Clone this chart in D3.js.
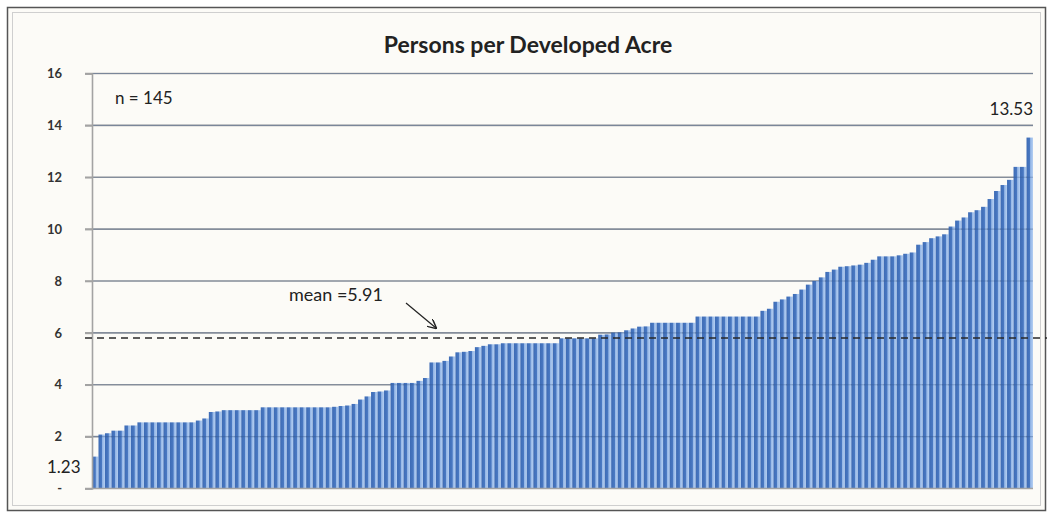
<!DOCTYPE html>
<html>
<head>
<meta charset="utf-8">
<script src="https://cdn.jsdelivr.net/npm/d3@7"></script>
<style>
  body { margin: 0; background: #ffffff; }
  svg { display: block; }
</style>
</head>
<body>
<div id="chart"></div>
<script>
// persons per developed acre, 145 places, sorted low to high
const values = [
  1.23, 2.08, 2.13, 2.23, 2.23, 2.43, 2.43,
  2.55, 2.55, 2.55, 2.55, 2.55, 2.55, 2.55, 2.55, 2.55,
  2.62, 2.70, 2.95, 2.97,
  3.02, 3.02, 3.02, 3.02, 3.02, 3.02,
  3.13, 3.13, 3.13, 3.13, 3.13, 3.13, 3.13, 3.13, 3.13, 3.13, 3.13,
  3.15, 3.18, 3.20, 3.26, 3.43, 3.55, 3.72, 3.74, 3.78,
  4.07, 4.07, 4.07, 4.07, 4.15, 4.26,
  4.86, 4.86, 4.92, 5.09, 5.25, 5.27, 5.30, 5.45, 5.50, 5.56, 5.56,
  5.60, 5.60, 5.60, 5.60, 5.60, 5.60, 5.60, 5.60, 5.60,
  5.79, 5.79, 5.79, 5.79, 5.79, 5.79,
  5.93, 5.94, 6.01, 6.02, 6.10, 6.17, 6.24, 6.25,
  6.39, 6.39, 6.39, 6.39, 6.39, 6.39, 6.39,
  6.63, 6.63, 6.63, 6.63, 6.63, 6.63, 6.63, 6.63, 6.63, 6.63,
  6.85, 6.93, 7.20, 7.29, 7.40, 7.50, 7.67, 7.86, 8.00, 8.14, 8.35, 8.44, 8.55,
  8.57, 8.60, 8.63, 8.70, 8.82, 8.95, 8.95, 8.95, 8.99, 9.05, 9.10,
  9.40, 9.50, 9.65, 9.72, 9.80, 10.10, 10.33, 10.45, 10.65, 10.73, 10.86,
  11.16, 11.47, 11.70, 11.90, 12.40, 12.40, 13.53
];
const yTicks = [0, 2, 4, 6, 8, 10, 12, 14, 16];
const meanValue = 5.91;      // label value
const meanLineAt = 5.8;      // where the dashed line is drawn in the source

const W = 1049, H = 516;
const svg = d3.select('#chart').append('svg')
  .attr('width', W)
  .attr('height', H);

// outer frame
svg.append('rect')
  .attr('x', 7.5).attr('y', 7.5)
  .attr('width', 1038).attr('height', 503)
  .attr('fill', '#fcfbf7')
  .attr('stroke', '#555')
  .attr('stroke-width', 1.5);
svg.append('rect')
  .attr('x', 12.5).attr('y', 12.5)
  .attr('width', 1028).attr('height', 493)
  .attr('fill', 'none')
  .attr('stroke', '#cfcfcf');

const x = d3.scaleBand()
  .domain(d3.range(values.length))
  .range([92, 1033])
  .padding(0);

const y = d3.scaleLinear()
  .domain([0, 16])
  .range([488.5, 73.5]);

// gradient for the bars (dark body, light edge)
const defs = svg.append('defs');
const grad = defs.append('linearGradient')
  .attr('id', 'barGrad')
  .attr('x1', '0%').attr('x2', '100%')
  .attr('y1', '0%').attr('y2', '0%');
grad.append('stop').attr('offset', '0%').attr('stop-color', '#3d6bb5');
grad.append('stop').attr('offset', '52%').attr('stop-color', '#4a79c2');
grad.append('stop').attr('offset', '62%').attr('stop-color', '#94b6e6');
grad.append('stop').attr('offset', '100%').attr('stop-color', '#b4cff2');

// gridlines
svg.append('g')
  .selectAll('line')
  .data(yTicks.filter(d => d > 0))
  .join('line')
  .attr('x1', 85).attr('x2', 1033)
  .attr('y1', d => y(d)).attr('y2', d => y(d))
  .attr('stroke', '#a3a3a3')
  .attr('stroke-width', 1.6);

// bars
svg.append('g')
  .selectAll('rect')
  .data(values)
  .join('rect')
  .attr('x', (d, i) => x(i))
  .attr('y', d => y(d))
  .attr('width', x.bandwidth())
  .attr('height', d => y(0) - y(d))
  .attr('fill', 'url(#barGrad)');

// gridlines showing through the bars
svg.append('g')
  .selectAll('line')
  .data(yTicks.filter(d => d > 0))
  .join('line')
  .attr('x1', 92).attr('x2', 1033)
  .attr('y1', d => y(d)).attr('y2', d => y(d))
  .attr('stroke', '#2d4f86')
  .attr('stroke-opacity', 0.35)
  .attr('stroke-width', 1.2);

// y axis
const yAxis = d3.axisLeft(y)
  .tickValues(yTicks)
  .tickSize(7)
  .tickFormat(d => d === 0 ? '-' : d);
const ga = svg.append('g')
  .attr('transform', 'translate(92,0)')
  .call(yAxis);
ga.select('.domain').attr('stroke', '#a3a3a3').attr('stroke-width', 1.6);
ga.selectAll('.tick line').attr('stroke', '#a3a3a3').attr('stroke-width', 1.6);
ga.selectAll('.tick text')
  .attr('x', -30)
  .attr('text-anchor', 'end')
  .attr('fill', '#333')
  .style('font-family', 'Lato, sans-serif')
  .style('font-weight', 'bold')
  .style('font-size', '13px');

// x baseline
svg.append('line')
  .attr('x1', 85).attr('x2', 1033)
  .attr('y1', y(0)).attr('y2', y(0))
  .attr('stroke', '#a3a3a3')
  .attr('stroke-width', 1.6);

// mean line
svg.append('line')
  .attr('x1', 85).attr('x2', 1047)
  .attr('y1', y(meanLineAt)).attr('y2', y(meanLineAt))
  .attr('stroke', '#2a2a2a')
  .attr('stroke-width', 1.6)
  .attr('stroke-dasharray', '7,5');

// title
svg.append('text')
  .attr('x', 528)
  .attr('y', 53)
  .attr('text-anchor', 'middle')
  .attr('fill', '#222')
  .style('font-family', 'Lato, sans-serif')
  .style('font-weight', 'bold')
  .style('font-size', '23px')
  .text('Persons per Developed Acre');

const noteStyle = sel => sel
  .attr('fill', '#222')
  .style('font-family', 'Lato, sans-serif')
  .style('font-size', '17px');

svg.append('text')
  .attr('x', 115).attr('y', 104)
  .call(noteStyle)
  .text('n = 145');

svg.append('text')
  .attr('x', 1033).attr('y', 115)
  .attr('text-anchor', 'end')
  .call(noteStyle)
  .text(d3.max(values).toFixed(2));

svg.append('text')
  .attr('x', 47).attr('y', 473)
  .call(noteStyle)
  .text(d3.min(values).toFixed(2));

svg.append('text')
  .attr('x', 289).attr('y', 301)
  .call(noteStyle)
  .style('font-size', '18px')
  .text('mean =' + meanValue);

// arrow pointing at the mean line
defs.append('marker')
  .attr('id', 'arrow')
  .attr('viewBox', '0 0 10 10')
  .attr('refX', 9).attr('refY', 5)
  .attr('markerWidth', 8).attr('markerHeight', 8)
  .attr('orient', 'auto')
  .append('path')
  .attr('d', 'M0,0 L10,5 L0,10')
  .attr('fill', 'none')
  .attr('stroke', '#222')
  .attr('stroke-width', 1.5);

svg.append('line')
  .attr('x1', 406).attr('y1', 303)
  .attr('x2', 436).attr('y2', y(meanLineAt) - 10)
  .attr('stroke', '#222')
  .attr('stroke-width', 1.2)
  .attr('marker-end', 'url(#arrow)');
</script>
</body>
</html>
